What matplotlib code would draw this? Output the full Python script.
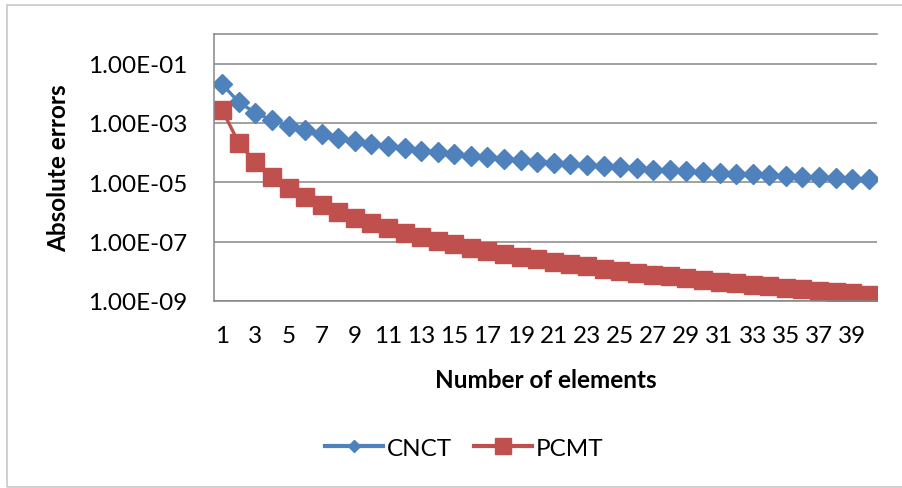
import matplotlib
matplotlib.use("Agg")
import matplotlib.pyplot as plt
from matplotlib.ticker import FixedLocator, FuncFormatter
from matplotlib.patches import Rectangle
from matplotlib.lines import Line2D
import numpy as np

plt.rcParams['font.family'] = ['Lato', 'DejaVu Sans']

# values
elements = list(range(1, 41))
cnct = [2.0e-2, 5.0e-3, 2.2e-3, 1.25e-3, 8.0e-4, 5.6e-4, 4.1e-4, 3.1e-4, 2.5e-4, 2.0e-4,
        1.65e-4, 1.39e-4, 1.18e-4, 1.02e-4, 8.9e-5, 7.8e-5, 6.9e-5, 6.2e-5, 5.5e-5, 5.0e-5,
        4.5e-5, 4.1e-5, 3.8e-5, 3.5e-5, 3.2e-5, 3.0e-5, 2.7e-5, 2.55e-5, 2.4e-5, 2.2e-5,
        2.1e-5, 1.95e-5, 1.84e-5, 1.73e-5, 1.63e-5, 1.54e-5, 1.46e-5, 1.39e-5, 1.31e-5, 1.25e-5]
pcmt = [2.7e-3, 2.1e-4, 4.7e-5, 1.55e-5, 6.6e-6, 3.2e-6, 1.7e-6, 1.0e-6, 6.2e-7, 4.1e-7,
        2.8e-7, 2.0e-7, 1.44e-7, 1.07e-7, 8.1e-8, 6.3e-8, 4.9e-8, 3.9e-8, 3.15e-8, 2.56e-8,
        2.1e-8, 1.75e-8, 1.47e-8, 1.24e-8, 1.05e-8, 9.0e-9, 7.7e-9, 6.7e-9, 5.8e-9, 5.1e-9,
        4.5e-9, 3.9e-9, 3.5e-9, 3.1e-9, 2.75e-9, 2.45e-9, 2.2e-9, 2.0e-9, 1.8e-9, 1.6e-9]
x_tick_labels = [str(n) for n in range(1, 40, 2)]
y_ticks = [1e-9, 1e-7, 1e-5, 1e-3, 1e-1]

W, H = 902, 489
fig = plt.figure(figsize=(W / 100, H / 100), dpi=100)

# chart area border
fig.patches.append(Rectangle((7 / W, 1 - 488 / H), 1.0, (488 - 6) / H,
                             transform=fig.transFigure, fill=False,
                             edgecolor='#c8c8c8', linewidth=1.2))

ax = fig.add_axes([214 / W, 1 - 302 / H, (877 - 214) / W, (302 - 35) / H])

blue = '#4F81BD'
red = '#C0504D'
ax.plot(elements, cnct, color=blue, lw=2.4, marker='D', ms=10, mec=blue)
ax.plot(elements, pcmt, color=red, lw=2.4, marker='s', ms=13.5, mec=red)

ax.set_yscale('log')
ax.set_ylim(1e-9, 1)
ax.set_xlim(0.5, 40.5)
ax.yaxis.set_major_locator(FixedLocator(y_ticks))
ax.yaxis.set_minor_locator(FixedLocator([]))
ax.yaxis.set_major_formatter(FuncFormatter(lambda v, p: '1.00E-%02d' % round(-np.log10(v))))
ax.set_xticks(range(1, 40, 2))
ax.set_xticklabels(x_tick_labels)

ax.grid(axis='y', color='#868686', lw=1.1)
ax.set_axisbelow(True)
for s in ['top', 'left', 'bottom']:
    ax.spines[s].set_color('#868686')
    ax.spines[s].set_linewidth(1.1)
ax.spines['right'].set_visible(False)
ax.tick_params(length=0, labelsize=17.5)
ax.tick_params(axis='y', pad=19)
ax.tick_params(axis='x', pad=17)

ax.set_xlabel('Number of elements', fontsize=17.5, fontweight='bold', labelpad=16)
ax.set_ylabel('Absolute errors', fontsize=17.5, fontweight='bold', labelpad=13)

handles = [Line2D([], [], color=blue, lw=3, marker='D', ms=6.2, mec=blue),
           Line2D([], [], color=red, lw=3, marker='s', ms=11, mec=red)]
fig.legend(handles, ['CNCT', 'PCMT'], loc='center', bbox_to_anchor=(464 / W, 1 - 449 / H),
           ncol=2, frameon=False, fontsize=17.5, handlelength=2.4,
           handletextpad=0.15, columnspacing=0.9)

fig.savefig('out.png', dpi=100)
